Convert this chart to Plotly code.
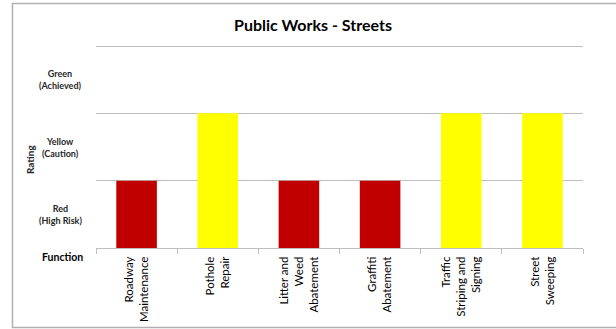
import plotly.graph_objects as go

categories = ["Roadway<br>Maintenance", "Pothole<br>Repair", "Litter and<br>Weed<br>Abatement",
              "Graffiti<br>Abatement", "Traffic<br>Striping and<br>Signing", "Street<br>Sweeping"]
ratings = [1, 2, 1, 1, 2, 2]
rating_labels = ["Red<br>(High Risk)", "Yellow<br>(Caution)", "Green<br>(Achieved)"]
rating_label_pos = [0.5, 1.5, 2.5]
rating_colors = {1: "#C00000", 2: "#FFFF00", 3: "#00B050"}

FONT = "Lato"
W, H = 616, 329
L, R, T, B = 96, 33, 45, 81
pw, ph = W - L - R, H - T - B

fig = go.Figure(go.Bar(
    x=categories, y=ratings,
    marker=dict(color=[rating_colors[v] for v in ratings], line=dict(width=0)),
    hoverinfo="skip",
))

annotations = []
for lab, pos in zip(rating_labels, rating_label_pos):
    annotations.append(dict(x=0, y=pos, xref="paper", yref="y", xshift=-36,
                            text="<b>" + lab + "</b>", showarrow=False, xanchor="center",
                            yanchor="middle", align="center",
                            font=dict(family=FONT, size=9, color="#262626")))
annotations.append(dict(x=0, y=(248 - 160) / ph, xref="paper", yref="paper", xshift=-66,
                        text="<b>Rating</b>", textangle=-90, showarrow=False,
                        xanchor="center", yanchor="middle",
                        font=dict(family=FONT, size=10, color="#262626")))
annotations.append(dict(x=0, y=0, xref="paper", yref="paper", xshift=-34, yshift=-9,
                        text="<b>Function</b>", showarrow=False,
                        xanchor="center", yanchor="middle",
                        font=dict(family=FONT, size=10.5, color="#000000")))

fig.update_layout(
    width=W, height=H,
    margin=dict(l=L, r=R, t=T, b=B, autoexpand=False),
    paper_bgcolor="white", plot_bgcolor="white",
    showlegend=False,
    bargap=0.5,
    title=dict(text="<b>Public Works - Streets</b>", x=313 / W, xref="container",
               xanchor="center", y=1 - 25 / H, yref="container", yanchor="middle",
               font=dict(family=FONT, size=16, color="#000000")),
    xaxis=dict(
        showline=True, linecolor="#BFBFBF", linewidth=1,
        ticks="outside", tickson="boundaries", ticklen=5, tickcolor="#BFBFBF",
        tickangle=-90, showgrid=False, automargin=False, ticklabelstandoff=3,
        tickfont=dict(family=FONT, size=11.5, color="#000000"),
        fixedrange=True,
    ),
    yaxis=dict(
        range=[0, 3.015], tickvals=[0, 1, 2, 3], showticklabels=False,
        showgrid=True, gridcolor="#BFBFBF", gridwidth=1, automargin=False,
        zeroline=False, showline=False, ticks="", fixedrange=True,
    ),
    annotations=annotations,
    shapes=[dict(type="rect", xref="paper", yref="paper",
                 x0=(12.5 - L) / pw, x1=(W + 5 - L) / pw,
                 y0=(T + ph - 327.5) / ph, y1=(T + ph - 3.5) / ph,
                 line=dict(color="#B0B0B0", width=1.5), layer="below")],
)

fig.write_html("out.html", config={"displayModeBar": False},
               post_script="document.body.style.margin='0';document.body.style.overflow='hidden';")
